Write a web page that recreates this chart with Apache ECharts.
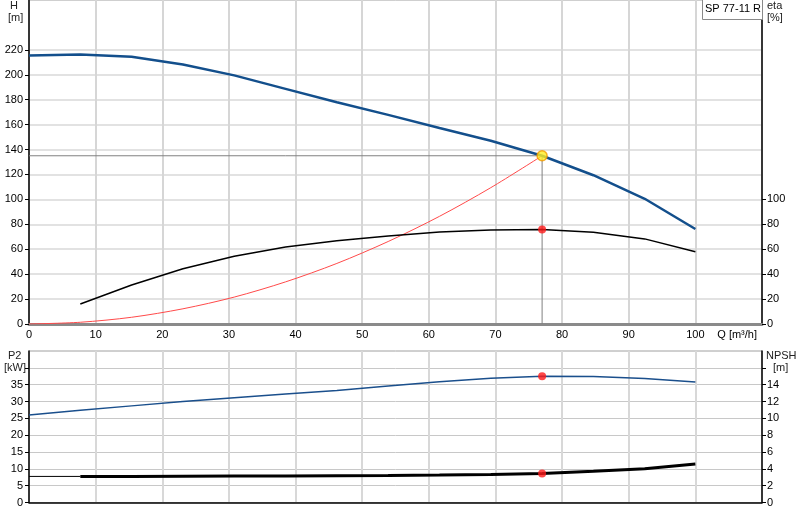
<!DOCTYPE html>
<html>
<head>
<meta charset="utf-8">
<script src="https://cdn.jsdelivr.net/npm/echarts@6/dist/echarts.min.js"></script>
<style>
html,body{margin:0;padding:0;background:#fff;}
#c{width:800px;height:520px;}
</style>
</head>
<body>
<div id="c"></div>
<script>
// Flow points (m³/h)
const qPts = [0, 7.7, 15.4, 23.1, 30.8, 38.5, 46.2, 53.9, 61.6, 69.3, 77, 84.7, 92.4, 100];
// Head H (m)
const headH = [215.4, 216.3, 214.4, 208.3, 199.5, 188.7, 178.0, 167.8, 157.3, 147.0, 135.0, 119.4, 100.5, 76.2];
// Efficiency eta (%) from Q = 7.7
const qEta = [7.7, 15.4, 23.1, 30.8, 38.5, 46.2, 53.9, 61.6, 69.3, 77, 84.7, 92.4, 100];
const etaVals = [16.0, 31.3, 44.4, 54.3, 61.8, 66.8, 70.7, 73.8, 75.4, 75.8, 73.7, 68.3, 58.0];
// System curve (m) up to duty point
const qSys = [0, 7.7, 15.4, 23.1, 30.8, 38.5, 46.2, 53.9, 61.6, 69.3, 77];
const sysVals = [0, 1.4, 5.4, 12.2, 21.6, 33.8, 48.6, 66.2, 86.4, 109.4, 135];
// Power P2 (kW)
const p2Vals = [26.0, 27.4, 28.7, 30.0, 31.1, 32.2, 33.3, 34.6, 35.9, 36.9, 37.5, 37.4, 36.8, 35.8];
// NPSH (m)
const qNpshStart = [0, 7.7];
const npshStart = [3.1, 3.1];
const qNpsh = [7.7, 15.4, 23.1, 30.8, 38.5, 46.2, 53.9, 61.6, 69.3, 77, 84.7, 92.4, 100];
const npshVals = [3.1, 3.1, 3.12, 3.14, 3.16, 3.18, 3.2, 3.26, 3.33, 3.45, 3.7, 4.0, 4.57];
// Duty point
const dutyQ = 77;
const dutyH = 135;
const dutyEta = 75.8;
const dutyP2 = 37.5;
const dutyNpsh = 3.45;
// Tick labels
const hTicks = [0,20,40,60,80,100,120,140,160,180,200,220];
const etaTicks = [0,20,40,60,80,100];
const p2Ticks = [0,5,10,15,20,25,30,35,40];
const npshTicks = [0,2,4,6,8,10,12,14,16];
const pumpName = 'SP 77-11 R';

const zip = (xs, ys) => xs.map((x, i) => [x, ys[i]]);
const FONT = 'Liberation Sans, Arial, sans-serif';
const lbl = {fontFamily: FONT, fontSize: 11, color: '#000'};

const chart = echarts.init(document.getElementById('c'), null, {renderer: 'canvas'});
const option = {
  animation: false,
  backgroundColor: '#fff',
  grid: [
    {left: 29, right: 38, top: 0, height: 324, show: true, borderColor: '#a0a0a0', borderWidth: 1},
    {left: 29, right: 38, top: 351, height: 151.5, show: true, borderColor: '#a0a0a0', borderWidth: 1}
  ],
  xAxis: [
    {
      type: 'value', gridIndex: 0, min: 0, max: 110, interval: 10,
      axisLine: {show: true, lineStyle: {color: '#8a8a8a', width: 3}},
      axisTick: {show: false},
      splitLine: {show: true, lineStyle: {color: '#d6d6d6', width: 2}},
      axisLabel: Object.assign({}, lbl, {
        margin: 5,
        alignMaxLabel: 'right',
        formatter: v => v === 110 ? '{q|Q [m³/h]}' : String(v),
        rich: {q: {fontFamily: FONT, fontSize: 11, color: '#000', padding: [0, 5, 0, 0]}}
      })
    },
    {
      type: 'value', gridIndex: 1, min: 0, max: 110, interval: 10,
      axisLine: {show: true, lineStyle: {color: '#000', width: 1.5}},
      axisTick: {show: false},
      splitLine: {show: true, lineStyle: {color: '#d8d8d8', width: 2}},
      axisLabel: {show: false}
    }
  ],
  yAxis: [
    {
      type: 'value', gridIndex: 0, min: 0, max: 260, interval: 20, position: 'left',
      axisLine: {show: true, lineStyle: {color: '#000', width: 1.5}},
      axisTick: {show: true, length: 4, lineStyle: {color: '#000'}, customValues: hTicks},
      splitLine: {show: true, lineStyle: {color: '#e2e2e2', width: 2}},
      axisLabel: Object.assign({}, lbl, {margin: 6, customValues: hTicks})
    },
    {
      type: 'value', gridIndex: 0, min: 0, max: 260, interval: 20, position: 'right',
      axisLine: {show: true, lineStyle: {color: '#000', width: 1.5}},
      axisTick: {show: true, length: 4, lineStyle: {color: '#000'}, customValues: etaTicks},
      splitLine: {show: false},
      axisLabel: Object.assign({}, lbl, {margin: 5, customValues: etaTicks})
    },
    {
      type: 'value', gridIndex: 1, min: 0, max: 45, interval: 5, position: 'left',
      axisLine: {show: true, lineStyle: {color: '#000', width: 1.5}},
      axisTick: {show: true, length: 4, lineStyle: {color: '#000'}, customValues: p2Ticks},
      splitLine: {show: true, lineStyle: {color: '#c8c8c8', width: 1}},
      axisLabel: Object.assign({}, lbl, {margin: 6, customValues: p2Ticks.slice(0, 8)})
    },
    {
      type: 'value', gridIndex: 1, min: 0, max: 18, interval: 2, position: 'right',
      axisLine: {show: true, lineStyle: {color: '#000', width: 1.5}},
      axisTick: {show: true, length: 4, lineStyle: {color: '#000'}, customValues: npshTicks},
      splitLine: {show: false},
      axisLabel: Object.assign({}, lbl, {margin: 5, customValues: npshTicks.slice(0, 8)})
    }
  ],
  series: [
    {
      name: 'duty lines', type: 'line', xAxisIndex: 0, yAxisIndex: 0, z: 1,
      data: [[0, dutyH], [dutyQ, dutyH], [dutyQ, 0]],
      symbol: 'none', lineStyle: {color: '#808080', width: 1}
    },
    {
      name: 'system', type: 'line', xAxisIndex: 0, yAxisIndex: 0, z: 2,
      data: zip(qSys, sysVals), smooth: 0.3,
      symbol: 'none', lineStyle: {color: '#ff4a4a', width: 1}
    },
    {
      name: 'eta', type: 'line', xAxisIndex: 0, yAxisIndex: 1, z: 3,
      data: zip(qEta, etaVals),
      symbol: 'none', lineStyle: {color: '#000', width: 1.5}
    },
    {
      name: 'H', type: 'line', xAxisIndex: 0, yAxisIndex: 0, z: 4,
      data: zip(qPts, headH),
      symbol: 'none', lineStyle: {color: '#134f8c', width: 2.5}
    },
    {
      name: 'duty H', type: 'scatter', xAxisIndex: 0, yAxisIndex: 0, z: 6,
      data: [[dutyQ, dutyH]], symbolSize: 10,
      itemStyle: {color: '#ffee22', borderColor: '#f29a00', borderWidth: 1.5}
    },
    {
      name: 'duty eta', type: 'scatter', xAxisIndex: 0, yAxisIndex: 1, z: 6,
      data: [[dutyQ, dutyEta]], symbolSize: 8,
      itemStyle: {color: '#ff1a1a'}
    },
    {
      name: 'P2', type: 'line', xAxisIndex: 1, yAxisIndex: 2, z: 3,
      data: zip(qPts, p2Vals),
      symbol: 'none', lineStyle: {color: '#1a4f8c', width: 1.5}
    },
    {
      name: 'NPSH start', type: 'line', xAxisIndex: 1, yAxisIndex: 3, z: 3,
      data: zip(qNpshStart, npshStart),
      symbol: 'none', lineStyle: {color: '#000', width: 1}
    },
    {
      name: 'NPSH', type: 'line', xAxisIndex: 1, yAxisIndex: 3, z: 3,
      data: zip(qNpsh, npshVals),
      symbol: 'none', lineStyle: {color: '#000', width: 3}
    },
    {
      name: 'duty P2', type: 'scatter', xAxisIndex: 1, yAxisIndex: 2, z: 6,
      data: [[dutyQ, dutyP2]], symbolSize: 8,
      itemStyle: {color: '#ff1a1a'}
    },
    {
      name: 'duty NPSH', type: 'scatter', xAxisIndex: 1, yAxisIndex: 3, z: 6,
      data: [[dutyQ, dutyNpsh]], symbolSize: 8,
      itemStyle: {color: '#ff1a1a'}
    }
  ],
  graphic: [
    {type: 'text', left: 10, top: 0, style: {text: 'H', font: '11px ' + FONT, fill: '#222'}},
    {type: 'text', left: 8, top: 12, style: {text: '[m]', font: '11px ' + FONT, fill: '#222'}},
    {type: 'text', left: 767, top: 0, style: {text: 'eta', font: '11px ' + FONT, fill: '#222'}},
    {type: 'text', left: 767, top: 12, style: {text: '[%]', font: '11px ' + FONT, fill: '#222'}},
    {type: 'text', left: 8, top: 350, style: {text: 'P2', font: '11px ' + FONT, fill: '#222'}},
    {type: 'text', left: 4, top: 362, style: {text: '[kW]', font: '11px ' + FONT, fill: '#222'}},
    {type: 'text', left: 766, top: 350, style: {text: 'NPSH', font: '11px ' + FONT, fill: '#222'}},
    {type: 'text', left: 773, top: 362, style: {text: '[m]', font: '11px ' + FONT, fill: '#222'}},
    {type: 'rect', left: 702, top: -1, z: 10, shape: {width: 60, height: 20},
      style: {fill: '#fff', stroke: '#8a8a8a', lineWidth: 1}},
    {type: 'text', left: 705, top: 3, z: 11, style: {text: pumpName, font: '11px ' + FONT, fill: '#000'}}
  ]
};
chart.setOption(option);
</script>
</body>
</html>
